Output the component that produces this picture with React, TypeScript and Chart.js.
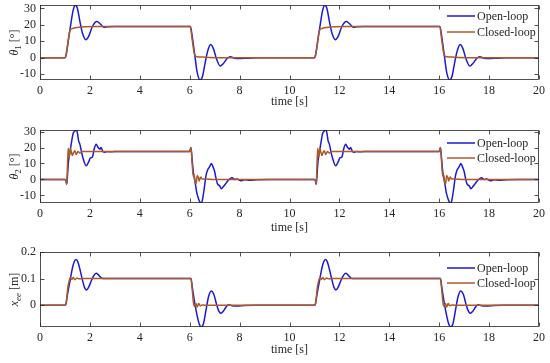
import React, { useEffect, useRef } from "react";
import { Chart, registerables } from "chart.js";
Chart.register(...registerables);

// ---------- data ----------
const timeRange = [0, 20];
const timeStep = 2;
const timeLabel = "time [s]";
const seriesNames = ["Open-loop", "Closed-loop"];

const theta1Open: [number, number][] = [
  [0, 0], [1.0, 0], [1.05, 2], [1.15, 12], [1.25, 22], [1.33, 29], [1.42, 32], [1.5, 30], [1.6, 22], [1.7, 15],
  [1.84, 11], [1.95, 13], [2.1, 19], [2.28, 22], [2.42, 20.5], [2.55, 18.6], [2.7, 18.8], [3.0, 19], [6.03, 19],
  [6.1, 13], [6.2, 2], [6.3, -9], [6.42, -13.8], [6.52, -11], [6.62, -3], [6.72, 4], [6.84, 8], [6.95, 5.5],
  [7.08, -1], [7.22, -5], [7.35, -3.5], [7.5, -0.5], [7.62, 0.5], [7.8, -0.3], [8.0, -0.5], [8.3, -0.3], [8.7, 0],
  [11.0, 0], [11.05, 2], [11.15, 12], [11.25, 22], [11.33, 29], [11.42, 32], [11.5, 30], [11.6, 22], [11.7, 15],
  [11.84, 11], [11.95, 13], [12.1, 19], [12.28, 22], [12.42, 20.5], [12.55, 18.6], [12.7, 18.8], [13.0, 19], [16.03, 19],
  [16.1, 13], [16.2, 2], [16.3, -9], [16.42, -13.8], [16.52, -11], [16.62, -3], [16.72, 4], [16.84, 8], [16.95, 5.5],
  [17.08, -1], [17.22, -5], [17.35, -3.5], [17.5, -0.5], [17.62, 0.5], [17.8, -0.3], [18.0, -0.5], [18.3, -0.3], [18.7, 0],
  [20, 0],
];
const theta1Closed: [number, number][] = [
  [0, 0], [1.0, 0], [1.03, 0.5], [1.1, 7], [1.2, 16.5], [1.3, 17.8], [1.5, 18.4], [1.8, 18.8], [2.3, 19], [6.02, 19],
  [6.1, 11], [6.2, 1.5], [6.3, 0.6], [6.6, 0.3], [7.2, 0],
  [11.0, 0], [11.03, 0.5], [11.1, 7], [11.2, 16.5], [11.3, 17.8], [11.5, 18.4], [11.8, 18.8], [12.3, 19], [16.02, 19],
  [16.1, 11], [16.2, 1.5], [16.3, 0.6], [16.6, 0.3], [17.2, 0], [20, 0],
];

const theta2Open: [number, number][] = [
  [0, 0], [1.0, 0], [1.04, -1], [1.07, -3], [1.1, 2], [1.14, 11], [1.2, 17], [1.27, 24], [1.33, 29], [1.38, 30],
  [1.45, 31.5], [1.5, 29], [1.55, 24], [1.6, 22], [1.68, 16], [1.75, 12], [1.85, 8.5], [1.95, 11], [2.02, 13.5],
  [2.1, 14], [2.17, 19], [2.25, 22], [2.33, 20], [2.4, 19], [2.45, 20], [2.52, 17.5], [2.6, 17], [2.7, 17.5],
  [2.8, 17.3], [3.0, 17.5], [6.0, 17.5], [6.05, 20], [6.1, 12], [6.15, 4], [6.22, -2], [6.28, -8], [6.33, -11],
  [6.4, -14], [6.47, -15], [6.52, -12], [6.58, -6], [6.65, 2], [6.72, 6], [6.8, 8], [6.87, 10], [6.93, 8], [7.0, 5],
  [7.05, 1], [7.12, -3], [7.2, -4], [7.27, -5.8], [7.35, -4.5], [7.45, -2.5], [7.55, -0.5], [7.62, 0.5], [7.7, 1],
  [7.8, 0], [7.9, 0.2], [8.05, -0.8], [8.2, -0.2], [8.4, -0.5], [8.7, -0.2], [9.2, 0],
  [11.0, 0], [11.04, -1], [11.07, -3], [11.1, 2], [11.14, 11], [11.2, 17], [11.27, 24], [11.33, 29], [11.38, 30],
  [11.45, 31.5], [11.5, 29], [11.55, 24], [11.6, 22], [11.68, 16], [11.75, 12], [11.85, 8.5], [11.95, 11], [12.02, 13.5],
  [12.1, 14], [12.17, 19], [12.25, 22], [12.33, 20], [12.4, 19], [12.45, 20], [12.52, 17.5], [12.6, 17], [12.7, 17.5],
  [12.8, 17.3], [13.0, 17.5], [16.0, 17.5], [16.05, 20], [16.1, 12], [16.15, 4], [16.22, -2], [16.28, -8], [16.33, -11],
  [16.4, -14], [16.47, -15], [16.52, -12], [16.58, -6], [16.65, 2], [16.72, 6], [16.8, 8], [16.87, 10], [16.93, 8], [17.0, 5],
  [17.05, 1], [17.12, -3], [17.2, -4], [17.27, -5.8], [17.35, -4.5], [17.45, -2.5], [17.55, -0.5], [17.62, 0.5], [17.7, 1],
  [17.8, 0], [17.9, 0.2], [18.05, -0.8], [18.2, -0.2], [18.4, -0.5], [18.7, -0.2], [19.2, 0], [20, 0],
];
const theta2Closed: [number, number][] = [
  [0, 0], [1.0, 0], [1.04, -1], [1.07, -3], [1.1, 8], [1.13, 19.5], [1.17, 14], [1.22, 19.5], [1.26, 17], [1.3, 15],
  [1.35, 17], [1.4, 18], [1.45, 15.5], [1.52, 17.5], [1.6, 16.5], [1.7, 17.5], [6.0, 17.5], [6.05, 20], [6.1, 10],
  [6.14, 2], [6.18, 3], [6.22, -2], [6.26, -2.5], [6.3, 2.5], [6.35, 1], [6.38, -1], [6.44, 1.5], [6.5, 0.2], [6.6, 0.3],
  [7.0, 0],
  [11.0, 0], [11.04, -1], [11.07, -3], [11.1, 8], [11.13, 19.5], [11.17, 14], [11.22, 19.5], [11.26, 17], [11.3, 15],
  [11.35, 17], [11.4, 18], [11.45, 15.5], [11.52, 17.5], [11.6, 16.5], [11.7, 17.5], [16.0, 17.5], [16.05, 20], [16.1, 10],
  [16.14, 2], [16.18, 3], [16.22, -2], [16.26, -2.5], [16.3, 2.5], [16.35, 1], [16.38, -1], [16.44, 1.5], [16.5, 0.2], [16.6, 0.3],
  [17.0, 0], [20, 0],
];

const xeeOpen: [number, number][] = [
  [0, 0], [1.0, 0], [1.03, 0.002], [1.1, 0.04], [1.2, 0.09], [1.3, 0.14], [1.38, 0.165], [1.45, 0.172], [1.52, 0.162],
  [1.6, 0.135], [1.7, 0.095], [1.78, 0.068], [1.86, 0.057], [1.95, 0.068], [2.05, 0.09], [2.15, 0.11], [2.25, 0.12],
  [2.35, 0.113], [2.45, 0.103], [2.6, 0.1], [6.05, 0.1], [6.1, 0.07], [6.2, 0.01], [6.3, -0.04], [6.38, -0.07],
  [6.46, -0.082], [6.55, -0.07], [6.65, -0.02], [6.75, 0.03], [6.86, 0.053], [6.97, 0.04], [7.07, 0.005], [7.17, -0.022],
  [7.25, -0.03], [7.35, -0.022], [7.45, -0.008], [7.55, 0.002], [7.7, -0.002], [7.9, -0.003], [8.2, -0.001], [8.6, 0],
  [11.0, 0], [11.03, 0.002], [11.1, 0.04], [11.2, 0.09], [11.3, 0.14], [11.38, 0.165], [11.45, 0.172], [11.52, 0.162],
  [11.6, 0.135], [11.7, 0.095], [11.78, 0.068], [11.86, 0.057], [11.95, 0.068], [12.05, 0.09], [12.15, 0.11], [12.25, 0.12],
  [12.35, 0.113], [12.45, 0.103], [12.6, 0.1], [16.05, 0.1], [16.1, 0.07], [16.2, 0.01], [16.3, -0.04], [16.38, -0.07],
  [16.46, -0.082], [16.55, -0.07], [16.65, -0.02], [16.75, 0.03], [16.86, 0.053], [16.97, 0.04], [17.07, 0.005], [17.17, -0.022],
  [17.25, -0.03], [17.35, -0.022], [17.45, -0.008], [17.55, 0.002], [17.7, -0.002], [17.9, -0.003], [18.2, -0.001], [18.6, 0],
  [20, 0],
];
const xeeClosed: [number, number][] = [
  [0, 0], [1.0, 0], [1.05, 0.01], [1.12, 0.07], [1.18, 0.095], [1.22, 0.105], [1.28, 0.097], [1.33, 0.104], [1.4, 0.096],
  [1.48, 0.102], [1.56, 0.099], [1.7, 0.1], [6.05, 0.1], [6.1, 0.06], [6.15, 0.01], [6.2, -0.005], [6.25, 0.006],
  [6.3, -0.007], [6.36, 0.006], [6.42, -0.002], [6.5, 0.001], [6.6, 0],
  [11.0, 0], [11.05, 0.01], [11.12, 0.07], [11.18, 0.095], [11.22, 0.105], [11.28, 0.097], [11.33, 0.104], [11.4, 0.096],
  [11.48, 0.102], [11.56, 0.099], [11.7, 0.1], [16.05, 0.1], [16.1, 0.06], [16.15, 0.01], [16.2, -0.005], [16.25, 0.006],
  [16.3, -0.007], [16.36, 0.006], [16.42, -0.002], [16.5, 0.001], [16.6, 0], [20, 0],
];

// ---------- style ----------
const FONT = "'Liberation Serif', 'Times New Roman', serif";
const INK = "#262626";
const OPEN_COLOR = "#1a1ad6";
const CLOSED_COLOR = "#ad5a26";

type Part = { t: string; italic?: boolean; sub?: boolean };

const panels = [
  {
    top: 0, height: 115, padTop: 5, xAxisH: 35, yMin: -13.6, yMax: 32.1, yStep: 10,
    yLabel: [{ t: "θ", italic: true }, { t: "1", sub: true }, { t: " [°]" }] as Part[],
    open: theta1Open, closed: theta1Closed, legendY: [16, 32], titleY: 102,
  },
  {
    top: 115, height: 125, padTop: 15, xAxisH: 37, yMin: -14.8, yMax: 31, yStep: 10,
    yLabel: [{ t: "θ", italic: true }, { t: "2", sub: true }, { t: " [°]" }] as Part[],
    open: theta2Open, closed: theta2Closed, legendY: [28, 43], titleY: 113,
  },
  {
    top: 240, height: 123, padTop: 12, xAxisH: 36, yMin: -0.082, yMax: 0.2, yStep: 0.1,
    yLabel: [{ t: "x", italic: true }, { t: "ee", italic: true, sub: true }, { t: " [m]" }] as Part[],
    open: xeeOpen, closed: xeeClosed, legendY: [28, 43], titleY: 110,
  },
];

const decorPlugin = {
  id: "decor",
  afterDraw(chart: any) {
    const o = chart.options.plugins.decor;
    const { ctx, chartArea } = chart;
    const { left, right, top, bottom } = chartArea;
    const xs = chart.scales.x;
    const ys = chart.scales.y;
    ctx.save();
    ctx.strokeStyle = INK;
    ctx.lineWidth = 0.8;
    const L = Math.round(left) + 0.5, R = Math.round(right) - 0.5, T = Math.round(top) + 0.5, B = Math.round(bottom) - 0.5;
    ctx.strokeRect(L, T, R - L, B - T);
    const tl = 4;
    ctx.beginPath();
    xs.ticks.forEach((tk: any) => {
      const px = Math.round(xs.getPixelForValue(tk.value)) + 0.5;
      ctx.moveTo(px, B); ctx.lineTo(px, B - tl);
      ctx.moveTo(px, T); ctx.lineTo(px, T + tl);
    });
    ys.ticks.forEach((tk: any) => {
      const py = Math.round(ys.getPixelForValue(tk.value)) + 0.5;
      ctx.moveTo(L, py); ctx.lineTo(L + tl, py);
      ctx.moveTo(R, py); ctx.lineTo(R - tl, py);
    });
    ctx.stroke();

    ctx.fillStyle = INK;
    ctx.font = `12px ${FONT}`;
    ctx.textAlign = "center";
    ctx.textBaseline = "middle";
    ctx.fillText(timeLabel, (left + right) / 2, o.titleY);

    const parts: Part[] = o.yLabel;
    const fontFor = (p: Part) => `${p.italic ? "italic " : ""}${p.sub ? 9 : 12}px ${FONT}`;
    let total = 0;
    parts.forEach((p) => { ctx.font = fontFor(p); total += ctx.measureText(p.t).width; });
    ctx.translate(14, (top + bottom) / 2);
    ctx.rotate(-Math.PI / 2);
    ctx.textAlign = "left";
    ctx.textBaseline = "alphabetic";
    let cx = -total / 2;
    parts.forEach((p) => {
      ctx.font = fontFor(p);
      ctx.fillText(p.t, cx, 4 + (p.sub ? 3 : 0));
      cx += ctx.measureText(p.t).width;
    });
    ctx.restore();

    ctx.save();
    ctx.font = `12px ${FONT}`;
    ctx.textAlign = "left";
    ctx.textBaseline = "middle";
    const colors = [OPEN_COLOR, CLOSED_COLOR];
    seriesNames.forEach((name, i) => {
      const y = o.legendY[i];
      ctx.strokeStyle = colors[i];
      ctx.lineWidth = 1.5;
      ctx.beginPath();
      ctx.moveTo(447, y); ctx.lineTo(475, y);
      ctx.stroke();
      ctx.fillStyle = INK;
      ctx.fillText(name, 477, y + 0.5);
    });
    ctx.restore();
  },
};

function Panel({ cfg }: { cfg: (typeof panels)[number] }) {
  const ref = useRef<HTMLCanvasElement | null>(null);
  useEffect(() => {
    if (!ref.current) return;
    const chart = new Chart(ref.current, {
      type: "line",
      data: {
        datasets: [
          {
            label: seriesNames[0],
            data: cfg.open.map(([x, y]) => ({ x, y })),
            borderColor: OPEN_COLOR,
            borderWidth: 1.5,
            pointRadius: 0,
            cubicInterpolationMode: "monotone",
            order: 1,
          },
          {
            label: seriesNames[1],
            data: cfg.closed.map(([x, y]) => ({ x, y })),
            borderColor: CLOSED_COLOR,
            borderWidth: 1.5,
            pointRadius: 0,
            cubicInterpolationMode: "monotone",
            order: 0,
          },
        ],
      },
      options: {
        animation: false,
        responsive: false,
        events: [],
        layout: { padding: { top: cfg.padTop, right: 11, left: 0, bottom: 0 } },
        plugins: {
          legend: { display: false },
          tooltip: { enabled: false },
          decor: { yLabel: cfg.yLabel, legendY: cfg.legendY, titleY: cfg.titleY },
        } as any,
        scales: {
          x: {
            type: "linear",
            min: timeRange[0],
            max: timeRange[1],
            grid: { display: false, drawTicks: false },
            border: { display: false },
            ticks: { stepSize: timeStep, padding: 4, color: INK, font: { family: FONT, size: 12 }, maxRotation: 0, includeBounds: false },
            afterFit: (s: any) => {
              s.height = cfg.xAxisH;
              s.paddingLeft = 0; s.paddingRight = 0; s.paddingTop = 0; s.paddingBottom = 0;
            },
          },
          y: {
            type: "linear",
            min: cfg.yMin,
            max: cfg.yMax,
            grid: { display: false, drawTicks: false },
            border: { display: false },
            ticks: { stepSize: cfg.yStep, padding: 4, color: INK, font: { family: FONT, size: 12 }, includeBounds: false },
            afterFit: (s: any) => {
              s.width = 40;
              s.paddingLeft = 0; s.paddingRight = 0; s.paddingTop = 0; s.paddingBottom = 0;
            },
          },
        },
      },
      plugins: [decorPlugin],
    } as any);
    return () => chart.destroy();
  }, [cfg]);
  return (
    <canvas
      ref={ref}
      width={550}
      height={cfg.height}
      style={{ position: "absolute", left: 0, top: cfg.top, width: 550, height: cfg.height }}
    />
  );
}

export default function App() {
  return (
    <div style={{ position: "fixed", left: 0, top: 0, width: 550, height: 363, background: "#fff", overflow: "hidden" }}>
      {panels.map((p, i) => (
        <Panel key={i} cfg={p} />
      ))}
    </div>
  );
}
